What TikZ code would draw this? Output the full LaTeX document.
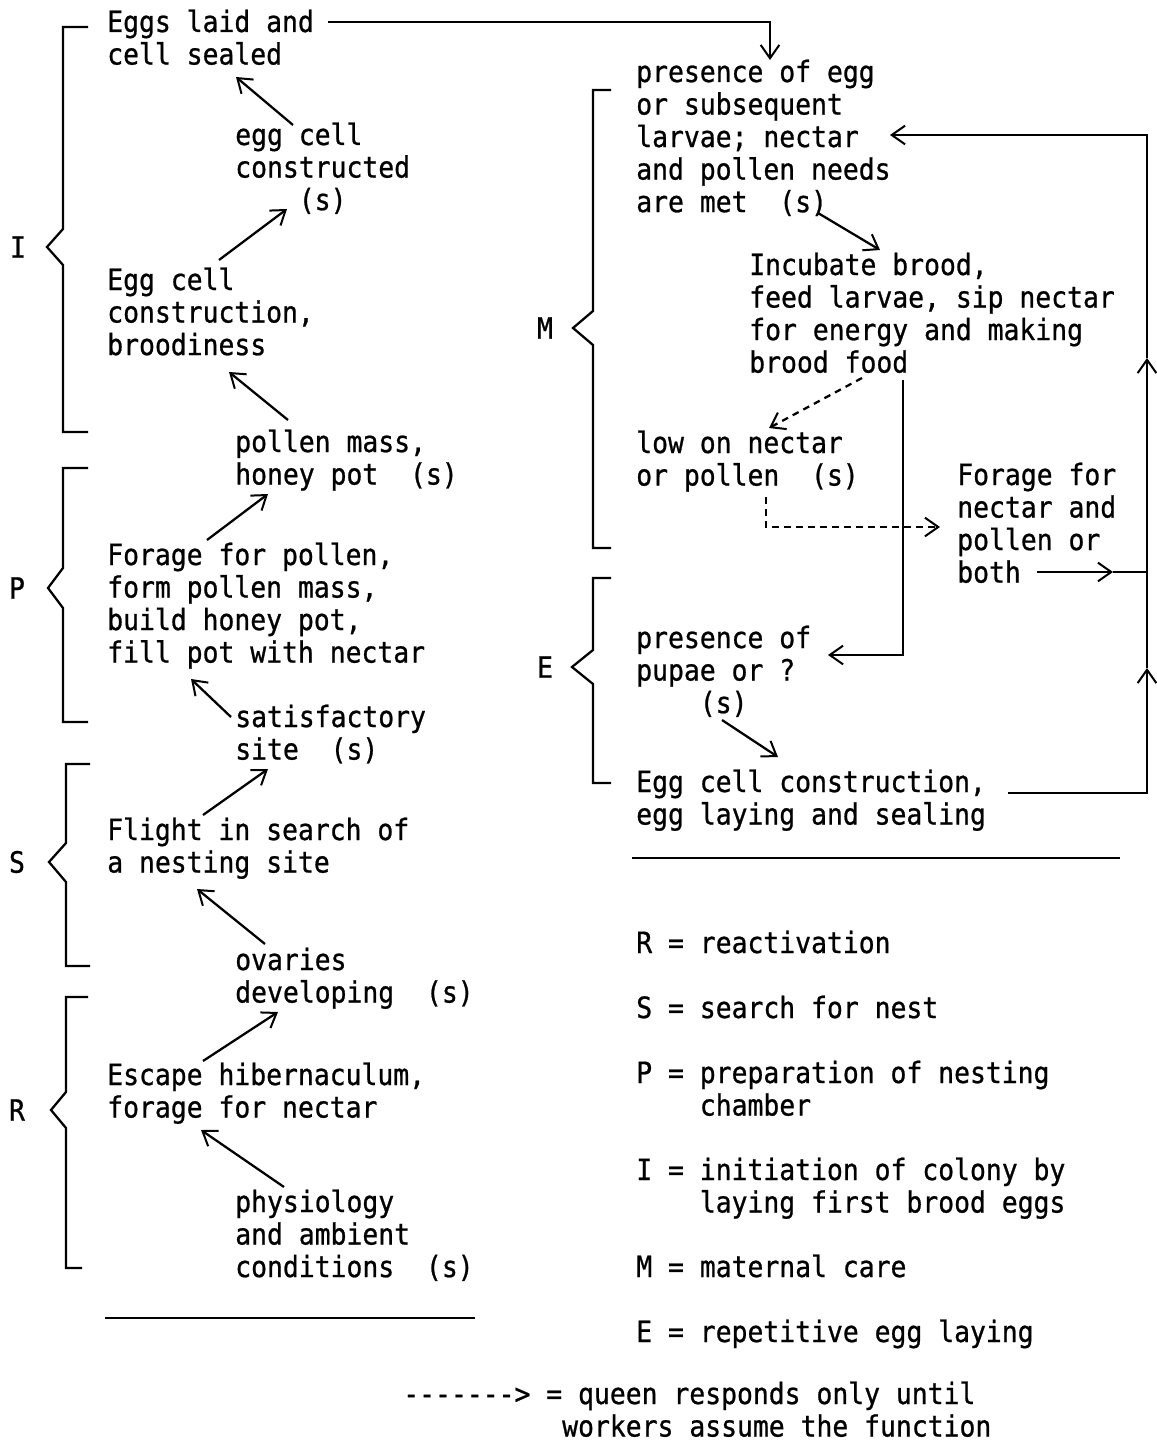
\documentclass[tikz,border=0pt]{standalone}
\usepackage{fontspec}
\setmonofont{DejaVu Sans Mono}[FakeStretch=0.9, FakeBold=0.8]
\usetikzlibrary{arrows.meta}
% a block of left-aligned lines whose reference point is the first baseline
\newcommand\lines[1]{\begin{tabular}[t]{@{}l@{}}#1\end{tabular}}
\begin{document}
\begin{tikzpicture}[x=0.75pt,y=-0.75pt,
  txt/.style={anchor=base west, inner sep=0pt, font=\ttfamily\fontsize{22}{24.4}\selectfont},
  lbl/.style={anchor=center, inner sep=0pt, font=\ttfamily\fontsize{22}{24.4}\selectfont},
  ink/.style={line width=1.7pt},
  arr/.style={ink, -{Straight Barb[length=10pt,width=14pt,line width=1.5pt]}},
  brace/.style={ink, line join=miter},
  rule/.style={line width=1.6pt}]
\useasboundingbox (0,0) rectangle (1156,1441);

% ---------- left column: stages R, S, P, I ----------
\node[txt] (eggs) at (107,32)  {\lines{Eggs laid and\\cell sealed}};
\node[txt] (ecs)  at (235,145) {\lines{egg cell\\constructed\\\hphantom{0000}(s)}};
\node[txt] (ecb)  at (107,290) {\lines{Egg cell\\construction,\\broodiness}};
\node[txt] (pm)   at (235,452) {\lines{pollen mass,\\honey pot\ \ (s)}};
\node[txt] (fp)   at (107,565) {\lines{Forage for pollen,\\form pollen mass,\\build honey pot,\\fill pot with nectar}};
\node[txt] (sat)  at (235,727) {\lines{satisfactory\\site\ \ (s)}};
\node[txt] (fl)   at (107,840) {\lines{Flight in search of\\a nesting site}};
\node[txt] (ov)   at (235,970) {\lines{ovaries\\developing\ \ (s)}};
\node[txt] (esc)  at (107,1085) {\lines{Escape hibernaculum,\\forage for nectar}};
\node[txt] (phy)  at (235,1212) {\lines{physiology\\and ambient\\conditions\ \ (s)}};

\node[lbl] (lI) at (18,247)  {I};
\node[lbl] (lP) at (17,588)  {P};
\node[lbl] (lS) at (17,862)  {S};
\node[lbl] (lR) at (17,1110) {R};

\draw[brace] (88,27) -- (63,27) -- (63,229) -- (47,247) -- (63,265) -- (63,432) -- (88,432);
\draw[brace] (88,468) -- (63,468) -- (63,568) -- (48,588) -- (63,608) -- (63,722) -- (88,722);
\draw[brace] (90,764) -- (66,764) -- (66,843) -- (49,862) -- (66,882) -- (66,966) -- (90,966);
\draw[brace] (88,997) -- (66,997) -- (66,1092) -- (51,1110) -- (66,1128) -- (66,1268) -- (82,1268);

% arrow end points
\coordinate (a1s) at (293,125);  \coordinate (a1e) at (236,77);
\coordinate (a2s) at (219,260);  \coordinate (a2e) at (287,209);
\coordinate (a3s) at (288,420);  \coordinate (a3e) at (229,372);
\coordinate (a4s) at (207,540);  \coordinate (a4e) at (268,494);
\coordinate (a5s) at (231,717);  \coordinate (a5e) at (191,679);
\coordinate (a6s) at (203,815);  \coordinate (a6e) at (268,769);
\coordinate (a7s) at (265,944);  \coordinate (a7e) at (197,889);
\coordinate (a8s) at (203,1061); \coordinate (a8e) at (278,1012);
\coordinate (a9s) at (284,1187); \coordinate (a9e) at (201,1130);

\draw[arr] (a1s) -- (a1e);
\draw[arr] (a2s) -- (a2e);
\draw[arr] (a3s) -- (a3e);
\draw[arr] (a4s) -- (a4e);
\draw[arr] (a5s) -- (a5e);
\draw[arr] (a6s) -- (a6e);
\draw[arr] (a7s) -- (a7e);
\draw[arr] (a8s) -- (a8e);
\draw[arr] (a9s) -- (a9e);

\draw[rule] (105,1318) -- (475,1318);

% ---------- right column: stages M, E ----------
\node[txt] (pe)  at (636,82)  {\lines{presence of egg\\or subsequent\\larvae; nectar\\and pollen needs\\are met\ \ (s)}};
\node[txt] (inc) at (749,275) {\lines{Incubate brood,\\feed larvae, sip nectar\\for energy and making\\brood food}};
\node[txt] (low) at (636,453) {\lines{low on nectar\\or pollen\ \ (s)}};
\node[txt] (fn)  at (957,485) {\lines{Forage for\\nectar and\\pollen or\\both}};
\node[txt] (pp)  at (636,648) {\lines{presence of\\pupae or ?\\\hphantom{0000}(s)}};
\node[txt] (ecl) at (636,792) {\lines{Egg cell construction,\\egg laying and sealing}};

\node[lbl] (lM) at (545,328) {M};
\node[lbl] (lE) at (545,667) {E};

\draw[brace] (611,90) -- (593,90) -- (593,311) -- (573,328) -- (593,345) -- (593,548) -- (611,548);
\draw[brace] (611,578) -- (593,578) -- (593,650) -- (572,667) -- (593,684) -- (593,783) -- (611,783);

% laid eggs feed into maternal care
\coordinate (t0) at (328,22);
\coordinate (t1) at (770,60);
\draw[arr] (t0) -| (t1);

\coordinate (b1s) at (818,213); \coordinate (b1e) at (880,250);
\draw[arr] (b1s) -- (b1e);

\coordinate (b2s) at (862,378); \coordinate (b2e) at (769,428);
\draw[arr, dash pattern=on 5pt off 4pt] (b2s) -- (b2e);

\coordinate (b3s) at (903,380); \coordinate (b3e) at (828,655);
\draw[arr] (b3s) |- (b3e);

\coordinate (b4s) at (766,497); \coordinate (b4e) at (940,527);
\draw[arr, dash pattern=on 5pt off 4pt] (b4s) |- (b4e);

\coordinate (b5s) at (1037,572); \coordinate (b5m) at (1113,572); \coordinate (b5e) at (1147,572);
\draw[arr] (b5s) -- (b5m);
\draw[ink] (b5m) -- (b5e);

\coordinate (b6s) at (1008,793);
\coordinate (b6a) at (1147,668);
\coordinate (b6b) at (1147,358);
\coordinate (b6e) at (890,135);
\draw[arr] (b6s) -| (b6a);
\draw[arr] (b6a) -- (b6b);
\draw[arr] (b6b) |- (b6e);

\coordinate (b7s) at (722,720); \coordinate (b7e) at (778,757);
\draw[arr] (b7s) -- (b7e);

\draw[rule] (632,858) -- (1120,858);

% ---------- key ----------
\node[txt] (kR) at (636,953)  {R = reactivation};
\node[txt] (kS) at (636,1018) {S = search for nest};
\node[txt] (kP) at (636,1083) {\lines{P = preparation of nesting\\\hphantom{0000}chamber}};
\node[txt] (kI) at (636,1180) {\lines{I = initiation of colony by\\\hphantom{0000}laying first brood eggs}};
\node[txt] (kM) at (636,1277) {M = maternal care};
\node[txt] (kE) at (636,1342) {E = repetitive egg laying};
\node[txt] (kD) at (403,1404) {\lines{-------> = queen responds only until\\\hphantom{0000000000}workers assume the function}};
\end{tikzpicture}
\end{document}
